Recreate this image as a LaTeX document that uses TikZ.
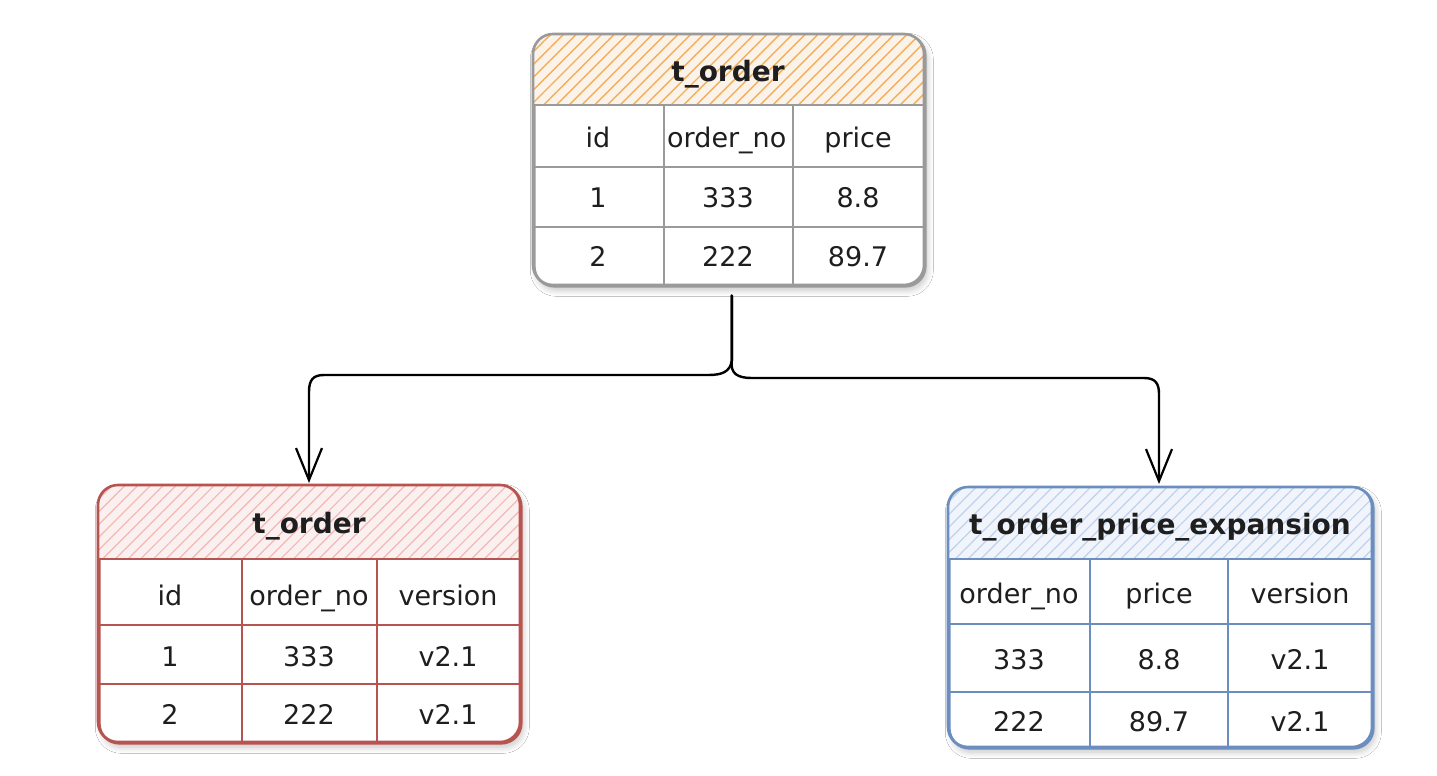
\documentclass[tikz,border=0pt]{standalone}
\usepackage{fontspec}
\setmainfont{DejaVu Sans}
\usetikzlibrary{arrows.meta,patterns.meta,calc,shadows.blur}
\definecolor{grayline}{HTML}{9A9A9A}
\definecolor{orangehatch}{HTML}{F5AE55}
\definecolor{orangebg}{HTML}{FBF3EA}
\definecolor{redline}{HTML}{B85450}
\definecolor{redhatch}{HTML}{F3B7B4}
\definecolor{redbg}{HTML}{FBF0F0}
\definecolor{blueline}{HTML}{6C8EBF}
\definecolor{bluehatch}{HTML}{BED2EE}
\definecolor{bluebg}{HTML}{F1F5FB}
\definecolor{txt}{HTML}{1E1E1E}
\tikzset{
  tbl/.style={draw=#1, line width=2.6pt, rounded corners=20pt, fill=white, inner sep=0pt,
    anchor=north west, blur shadow={shadow xshift=2pt, shadow yshift=-4pt, shadow blur steps=8, shadow blur radius=6pt, shadow opacity=22}},
  tbledge/.style={draw=#1, line width=2.6pt, rounded corners=20pt},
  cellline/.style={draw=#1, line width=2pt},
  cell/.style={inner sep=0pt, text=txt, text height=20pt, text depth=1pt, font=\fontsize{27}{32}\selectfont},
  title/.style={inner sep=0pt, text=txt, text height=21pt, text depth=2pt, font=\fontsize{28}{33}\selectfont\bfseries},
  conn/.style={draw=black, line width=2.4pt, line cap=round, line join=round,
    -{Straight Barb[length=32pt, width=26pt, line width=2.2pt]}}
}
\begin{document}
\begin{tikzpicture}[x=1pt, y=-1pt]
\useasboundingbox (0,0) rectangle (1437,776);
\fill[white] (0,0) rectangle (1437,776);

% ---------- top table ----------
\node[tbl=grayline, minimum width=391pt, minimum height=251pt] (top) at (533,34) {};
\begin{scope}
  \clip[rounded corners=20pt] (533,34) rectangle (924,285);
  \fill[orangebg] (533,34) rectangle (924,105);
  \path[pattern={Lines[angle=45, distance=9pt, line width=1.4pt]}, pattern color=orangehatch] (533,34) rectangle (924,105);
\end{scope}
\draw[cellline=grayline] (533,105) -- (924,105);
\draw[cellline=grayline] (533,167) -- (924,167);
\draw[cellline=grayline] (533,227) -- (924,227);
\draw[cellline=grayline] (664,105) -- (664,285);
\draw[cellline=grayline] (793,105) -- (793,285);
\draw[tbledge=grayline] (533,34) rectangle (924,285);
\node[title] (ttitle) at (728,72) {t\_order};
\node[cell] (t11) at (598,138) {id};
\begin{scope}
  \clip (665,106) rectangle (792,166);
  \node[cell, anchor=west] (t12) at (667,138) {order\_no};
\end{scope}
\node[cell] (t13) at (858,138) {price};
\node[cell] (t21) at (598,198) {1};
\node[cell] (t22) at (728,198) {333};
\node[cell] (t23) at (858,198) {8.8};
\node[cell] (t31) at (598,257) {2};
\node[cell] (t32) at (728,257) {222};
\node[cell] (t33) at (858,257) {89.7};

% ---------- bottom-left table ----------
\node[tbl=redline, minimum width=422pt, minimum height=257pt] (bl) at (98,485) {};
\begin{scope}
  \clip[rounded corners=20pt] (98,485) rectangle (520,742);
  \fill[redbg] (98,485) rectangle (520,559);
  \path[pattern={Lines[angle=45, distance=9pt, line width=1.2pt]}, pattern color=redhatch] (98,485) rectangle (520,559);
\end{scope}
\draw[cellline=redline] (98,559) -- (520,559);
\draw[cellline=redline] (98,625) -- (520,625);
\draw[cellline=redline] (98,684) -- (520,684);
\draw[cellline=redline] (242,559) -- (242,742);
\draw[cellline=redline] (377,559) -- (377,742);
\draw[tbledge=redline] (98,485) rectangle (520,742);
\node[title] (ltitle) at (309,524) {t\_order};
\node[cell] (l11) at (170,596) {id};
\node[cell] (l12) at (309,596) {order\_no};
\node[cell] (l13) at (448,596) {version};
\node[cell] (l21) at (170,657) {1};
\node[cell] (l22) at (309,657) {333};
\node[cell] (l23) at (448,657) {v2.1};
\node[cell] (l31) at (170,715) {2};
\node[cell] (l32) at (309,715) {222};
\node[cell] (l33) at (448,715) {v2.1};

% ---------- bottom-right table ----------
\node[tbl=blueline, minimum width=424pt, minimum height=260pt] (br) at (948,487) {};
\begin{scope}
  \clip[rounded corners=20pt] (948,487) rectangle (1372,747);
  \fill[bluebg] (948,487) rectangle (1372,559);
  \path[pattern={Lines[angle=45, distance=9pt, line width=1.2pt]}, pattern color=bluehatch] (948,487) rectangle (1372,559);
\end{scope}
\draw[cellline=blueline] (948,559) -- (1372,559);
\draw[cellline=blueline] (948,624) -- (1372,624);
\draw[cellline=blueline] (948,692) -- (1372,692);
\draw[cellline=blueline] (1090,559) -- (1090,747);
\draw[cellline=blueline] (1228,559) -- (1228,747);
\draw[tbledge=blueline] (948,487) rectangle (1372,747);
\node[title] (rtitle) at (1160,525) {t\_order\_price\_expansion};
\node[cell] (r11) at (1019,594) {order\_no};
\node[cell] (r12) at (1159,594) {price};
\node[cell] (r13) at (1300,594) {version};
\node[cell] (r21) at (1019,660) {333};
\node[cell] (r22) at (1159,660) {8.8};
\node[cell] (r23) at (1300,660) {v2.1};
\node[cell] (r31) at (1019,722) {222};
\node[cell] (r32) at (1159,722) {89.7};
\node[cell] (r33) at (1300,722) {v2.1};

% ---------- connectors ----------
\draw[conn] ($(top.south)+(2,8)$) -- ($(top.south)+(2,73)$)
  .. controls (730,372) and (722,375) .. (708,375) -- (324,375)
  .. controls (313,375) and (309,380) .. (309,392) -- ($(bl.north west)+(211,-2)$);
\draw[conn] ($(top.south)+(2,8)$) -- ($(top.south)+(2,73)$)
  .. controls (730,374) and (738,378) .. (752,378) -- (1144,378)
  .. controls (1155,378) and (1159,383) .. (1159,394) -- ($(br.north west)+(211,-3)$);
\end{tikzpicture}
\end{document}
